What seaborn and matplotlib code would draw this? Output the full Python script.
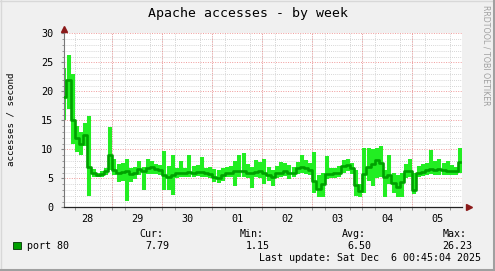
import numpy as np
import pandas as pd
import matplotlib
matplotlib.use("Agg")
import matplotlib.pyplot as plt
import seaborn as sns

# ---- data (hours since Nov 28 00:00, 2-hour steps) ----
hours = np.arange(1, 192, 2)
avg = [19, 22, 15, 12, 11, 12.5, 7, 6, 5.6, 5.7, 6.2, 9,
       6.5, 6.0, 6.1, 6.3, 5.7, 5.9, 6.6, 6.2, 6.8, 6.9, 6.6, 6.5,
       5.6, 5.2, 5.6, 5.9, 5.9, 6.0, 6.1, 6.0, 6.1, 6.1, 5.9, 5.8,
       5.3, 5.0, 5.5, 5.9, 6.0, 6.2, 6.3, 6.3, 6.0, 5.9, 6.1, 6.2,
       6.0, 5.6, 5.3, 6.0, 6.0, 6.3, 5.9, 6.0, 6.8, 7.0, 6.7, 6.5,
       4.5, 3.2, 4.0, 5.8, 5.8, 5.9, 6.0, 7.2, 7.3, 6.7, 3.8, 2.8,
       5.8, 7.0, 7.5, 8.2, 7.6, 5.3, 5.6, 4.2, 3.5, 4.3, 6.2, 6.3,
       3.0, 6.0, 6.1, 6.5, 6.6, 6.4, 6.6, 6.4, 6.2, 6.3, 6.3, 7.8]
lo = [15, 17, 11, 9.5, 9, 10.5, 2, 5.3, 5.2, 5.2, 5.6, 6.5,
      5.5, 4.3, 4.5, 1.15, 4.3, 4.8, 5.5, 3.0, 5.8, 5.8, 5.8, 5.5,
      3.0, 2.9, 2.2, 5.0, 5.2, 5.2, 5.3, 5.3, 5.4, 5.3, 5.2, 5.0,
      4.4, 4.2, 4.5, 5.2, 5.2, 3.6, 5.3, 5.3, 5.0, 3.4, 5.3, 5.0,
      4.0, 4.5, 3.6, 5.0, 5.2, 5.4, 4.9, 5.2, 5.8, 5.9, 5.8, 5.5,
      2.5, 1.8, 1.8, 4.8, 5.0, 5.0, 5.2, 6.0, 6.2, 5.8, 2.0, 1.8,
      2.5, 4.6, 3.6, 5.0, 5.2, 1.7, 4.0, 2.5, 1.7, 1.8, 5.0, 5.3,
      2.3, 5.2, 5.4, 5.6, 5.8, 5.6, 5.6, 5.5, 5.5, 5.6, 5.5, 6.0]
hi = [24, 26.23, 23, 14, 13, 14.5, 15.7, 6.6, 6.0, 6.2, 6.8, 13.8,
      8.4, 7.5, 7.6, 8.3, 6.8, 7.0, 8.0, 7.0, 8.3, 8.0, 7.5, 7.3,
      9.7, 7.2, 9.0, 6.7, 7.9, 6.8, 9.0, 7.2, 7.3, 8.6, 6.8, 6.9,
      6.6, 6.5, 6.7, 7.0, 7.2, 7.9, 9.1, 9.3, 7.4, 7.0, 8.1, 7.8,
      8.3, 7.0, 6.5, 7.2, 7.8, 7.6, 7.3, 7.0, 7.8, 9.0, 8.2, 7.6,
      9.6, 5.5, 6.0, 8.8, 6.7, 6.8, 7.2, 8.2, 8.4, 7.6, 6.5, 4.0,
      10.2, 10.3, 10.1, 10.2, 10.6, 6.5, 9.0, 6.0, 5.5, 6.0, 7.5, 8.3,
      6.0, 7.2, 7.5, 7.6, 9.8, 8.0, 8.3, 7.6, 8.0, 7.3, 7.0, 10.2]
day_labels = ["28", "29", "30", "01", "02", "03", "04", "05"]
legend_label = "port 80"
stats_names = ["Cur:", "Min:", "Avg:", "Max:"]
stats_values = ["7.79", "1.15", "6.50", "26.23"]

df = pd.DataFrame({"hour": hours, "avg": avg, "lo": lo, "hi": hi})

mono = "DejaVu Sans Mono"
plt.rcParams["font.family"] = [mono]

fig = plt.figure(figsize=(4.95, 2.71), dpi=100, facecolor="#F0F0F0")
W, H = 495, 271
ax = fig.add_axes([64.3 / W, 1 - 207.3 / H, (462.3 - 64.3) / W, (207.3 - 33.3) / H])
ax.set_facecolor("white")

light = "#22EE22"
dark = "#00A000"

ax.vlines(df["hour"], df["lo"], df["hi"], color=light, lw=2.9, zorder=2)
sns.lineplot(data=df, x="hour", y="avg", ax=ax, color=dark, lw=1.9, zorder=3, legend=False,
             drawstyle="steps-mid")

ax.set_xlim(0.96, 192)
ax.set_ylim(0, 30)

# grids
ax.set_xticks([12 + 24 * k for k in range(len(day_labels))])
ax.set_xticklabels(day_labels)
ax.set_xticks(np.arange(6, 192, 6), minor=True)
ax.set_yticks(np.arange(0, 31, 5))
ax.set_yticks(np.arange(0, 31, 1), minor=True)
ax.grid(False)
ax.grid(which="minor", axis="both", color="#C8C8C8", linestyle=(0, (1, 1.5)), lw=0.6)
ax.grid(which="major", axis="y", color="#F09A9A", linestyle=(0, (1, 1.5)), lw=0.7)
for d in range(24, 193, 24):
    ax.axvline(d, color="#F09A9A", linestyle=(0, (1, 1.5)), lw=0.7, zorder=1)
ax.set_axisbelow(True)

ax.tick_params(axis="x", which="major", length=0, pad=5, labelsize=7.3, colors="#000000")
ax.tick_params(axis="x", which="minor", length=2, color="#888888")
ax.tick_params(axis="y", which="major", length=2, pad=6, labelsize=7.3, color="#888888")
ax.tick_params(axis="y", which="minor", length=1.5, color="#888888")
ax.set_xlabel("")
ax.set_ylabel("")

for s in ["top", "right"]:
    ax.spines[s].set_visible(False)
ax.spines["left"].set_color("#777777")
ax.spines["left"].set_linewidth(0.8)
ax.spines["bottom"].set_color("#222222")
ax.spines["bottom"].set_linewidth(0.9)

arrow_c = "#8B1A1A"
ax.plot([0], [1.025], marker="^", ms=4, color=arrow_c, transform=ax.transAxes, clip_on=False)
ax.plot([1.017], [0], marker=">", ms=4, color=arrow_c, transform=ax.transAxes, clip_on=False)

# texts
fig.text(0.5, 1 - 13 / H, "Apache accesses - by week", ha="center", va="center", fontsize=9.5)
fig.text(11.5 / W, 1 - 119 / H, "accesses / second", rotation=90, ha="center", va="center", fontsize=6.6)
fig.text(486 / W, 1 - 5 / H, "RRDTOOL / TOBI OETIKER", rotation=-90, ha="center", va="top",
         fontsize=5.7, color="#A0A0A0", family="DejaVu Sans")

# legend
fig.patches.append(plt.Rectangle((13 / W, 1 - 249 / H), 8 / W, 7 / H, transform=fig.transFigure,
                                 facecolor=dark, edgecolor="#003300", lw=0.6))
fig.text(27 / W, 1 - 246 / H, legend_label, ha="left", va="center", fontsize=7.2)
name_x = [139, 240, 342, 443]
val_x = [169, 270, 371, 472]
for nx, vx, n, v in zip(name_x, val_x, stats_names, stats_values):
    fig.text(nx / W, 1 - 234 / H, n, ha="left", va="center", fontsize=7.2)
    fig.text(vx / W, 1 - 246 / H, v, ha="right", va="center", fontsize=7.2)
fig.text(481 / W, 1 - 258 / H, "Last update: Sat Dec  6 00:45:04 2025", ha="right", va="center", fontsize=7.2)

# frame
fig.add_artist(plt.Line2D([0, 1], [1 - 0.5 / H] * 2, color="#D8D8D8", lw=1.0, transform=fig.transFigure))
fig.add_artist(plt.Line2D([0.5 / W] * 2, [0, 1], color="#D8D8D8", lw=1.0, transform=fig.transFigure))
fig.add_artist(plt.Line2D([0, 1], [1.5 / H] * 2, color="#A0A0A0", lw=2.2, transform=fig.transFigure))
fig.add_artist(plt.Line2D([1 - 1.5 / W] * 2, [0, 1], color="#A0A0A0", lw=2.2, transform=fig.transFigure))

fig.savefig("out.png", dpi=100, facecolor=fig.get_facecolor())
